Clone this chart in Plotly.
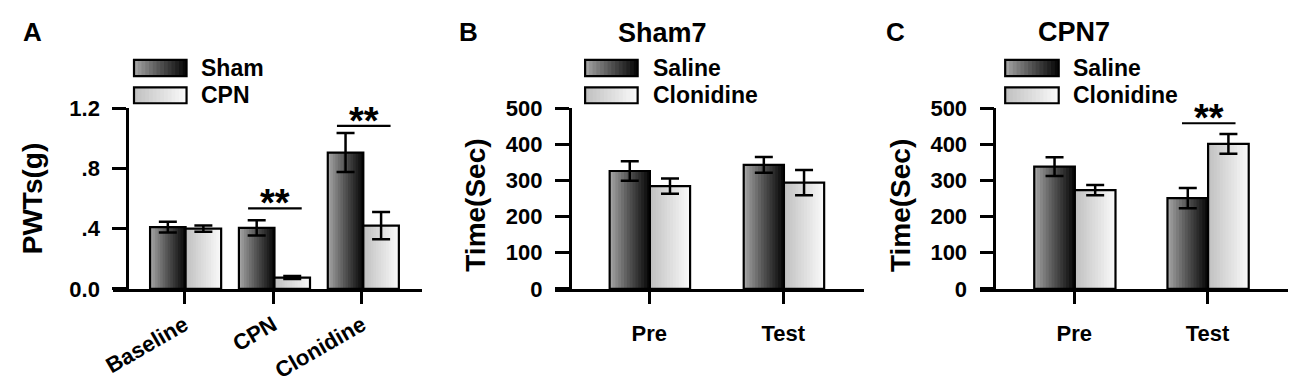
import plotly.graph_objects as go

# page is rendered inside the default 8px body margin, so the figure is
# sized to fill the 1300x391 window exactly
PAGE_W, PAGE_H, BODY = 1300, 391, 8
FW, FH = PAGE_W - 2 * BODY, PAGE_H - 2 * BODY

# ---------------- data ----------------
a_cats = ["Baseline", "CPN", "Clonidine"]
a_sham = [0.41, 0.405, 0.905]
a_sham_err = [0.035, 0.05, 0.13]
a_cpn = [0.40, 0.075, 0.42]
a_cpn_err = [0.02, 0.01, 0.09]
a_ticks = [0.0, 0.4, 0.8, 1.2]
a_ticktext = ["0.0", ".4", ".8", "1.2"]
a_sig = [(1, 0.535), (2, 1.082)]

b_cats = ["Pre", "Test"]
b_saline = [326, 343]
b_saline_err = [27, 22]
b_clon = [284, 294]
b_clon_err = [21, 35]

c_cats = ["Pre", "Test"]
c_saline = [338, 251]
c_saline_err = [26, 28]
c_clon = [273, 401]
c_clon_err = [14, 27]
c_sig = [(1, 458)]

t_ticks = [0, 100, 200, 300, 400, 500]

FONT = "Liberation Sans, Arial, sans-serif"
NS = 14  # gradient slices


def fx(px):
    return (px - BODY) / FW


def fy(py):
    return 1 - (py - BODY) / FH


def dark(t):
    v = int(round(170 - 165 * t ** 0.9))
    return f"rgb({v},{v},{v})"


def light(t):
    v = int(round(192 + 58 * t))
    return f"rgb({v},{v},{v})"


fig = go.Figure()

panels = [
    dict(xa="x", ya="y", cats=a_cats, width=0.40,
         series=[(a_sham, a_sham_err, dark, -0.385), (a_cpn, a_cpn_err, light, 0.015)]),
    dict(xa="x2", ya="y2", cats=b_cats, width=0.30,
         series=[(b_saline, b_saline_err, dark, -0.295), (b_clon, b_clon_err, light, 0.005)]),
    dict(xa="x3", ya="y3", cats=c_cats, width=0.305,
         series=[(c_saline, c_saline_err, dark, -0.300), (c_clon, c_clon_err, light, 0.005)]),
]

for p in panels:
    w = p["width"]
    for vals, errs, cfun, off in p["series"]:
        # gradient: each slice runs from its start to the bar's right edge,
        # later slices painted over earlier ones
        for i in range(NS):
            t = (i + 0.5) / NS
            start = off + i * w / NS
            fig.add_trace(go.Bar(
                x=p["cats"], y=vals, xaxis=p["xa"], yaxis=p["ya"],
                width=w - i * w / NS, offset=start,
                marker=dict(color=cfun(t), line=dict(width=0)),
                showlegend=False, hoverinfo="skip"))
        fig.add_trace(go.Bar(
            x=p["cats"], y=vals, xaxis=p["xa"], yaxis=p["ya"],
            width=w, offset=off,
            marker=dict(color="rgba(0,0,0,0)", line=dict(width=2.2, color="black")),
            error_y=dict(type="data", array=errs, visible=True, color="black",
                         thickness=2.5, width=9),
            showlegend=False))

axis_common = dict(showline=True, linecolor="black", linewidth=2.5, ticks="outside",
                   tickcolor="black", tickwidth=2.5, showgrid=False, zeroline=False,
                   tickfont=dict(family=FONT, size=22, color="black", weight="bold"))

ydom = [fy(302), fy(104.3)]

fig.update_layout(
    width=FW, height=FH, margin=dict(l=0, r=0, t=0, b=0),
    paper_bgcolor="white", plot_bgcolor="white", barmode="overlay",
    xaxis=dict(domain=[fx(103), fx(414)], range=[-0.80, 2.67], type="category",
               anchor="y", ticklen=12, tickangle=-30, ticklabelstandoff=0, **axis_common),
    yaxis=dict(domain=ydom, range=[0, 1.2], anchor="free", position=fx(117),
               tickvals=a_ticks, ticktext=a_ticktext, ticklen=14, ticklabelstandoff=8,
               **axis_common),
    xaxis2=dict(domain=[fx(549), fx(860)], range=[-0.70, 1.60], type="category",
                anchor="y2", ticklen=12, ticklabelstandoff=11, **axis_common),
    yaxis2=dict(domain=ydom, range=[0, 500], anchor="free", position=fx(563.3),
                tickvals=t_ticks, ticklen=14, ticklabelstandoff=8, **axis_common),
    xaxis3=dict(domain=[fx(977.3), fx(1288)], range=[-0.707, 1.605], type="category",
                anchor="y3", ticklen=12, ticklabelstandoff=11, **axis_common),
    yaxis3=dict(domain=ydom, range=[0, 500], anchor="free", position=fx(991.7),
                tickvals=t_ticks, ticklen=14, ticklabelstandoff=8, **axis_common),
)

ann = []
shapes = []


def text(x, y, s, size, xanchor="center", angle=0):
    ann.append(dict(x=fx(x), y=fy(y), xref="paper", yref="paper", text=s, showarrow=False,
                    xanchor=xanchor, yanchor="middle", textangle=angle,
                    font=dict(family=FONT, size=size, color="black", weight="bold")))


text(22, 21, "A", 26)
text(461, 21, "B", 26)
text(892, 21, "C", 26)
text(656.7, 21.7, "Sham7", 27)
text(1071.7, 21.5, "CPN7", 27)
text(21, 203, "PWTs(g)", 28, angle=-90)
text(469, 211, "Time(Sec)", 28, angle=-90)
text(897, 211, "Time(Sec)", 28, angle=-90)


def legend(x0, x1, labels, tx):
    rows = [(51.7, 69.3), (81.7, 99.0)]
    for (y0, y1), (lab, cfun) in zip(rows, labels):
        for i in range(NS):
            t = (i + 0.5) / NS
            sx0 = x0 + (x1 - x0) * i / NS
            shapes.append(dict(type="rect", xref="paper", yref="paper",
                               x0=fx(sx0), x1=fx(x1), y0=fy(y1), y1=fy(y0),
                               fillcolor=cfun(t), line=dict(width=0), layer="above"))
        shapes.append(dict(type="rect", xref="paper", yref="paper",
                           x0=fx(x0), x1=fx(x1), y0=fy(y1), y1=fy(y0),
                           fillcolor="rgba(0,0,0,0)", line=dict(width=2.2, color="black"),
                           layer="above"))
        text(tx, (y0 + y1) / 2, lab, 23, xanchor="left")


legend(124, 177, [("Sham", dark), ("CPN", light)], 190)
legend(579, 632, [("Saline", dark), ("Clonidine", light)], 645)
legend(1002.7, 1056.7, [("Saline", dark), ("Clonidine", light)], 1069)

SIG_HALF_PX = 27


def sig(xa, ya, marks, px_per_unit, shift):
    for cat, yv in marks:
        c = cat + shift
        h = SIG_HALF_PX / px_per_unit
        shapes.append(dict(type="line", xref=xa, yref=ya, x0=c - h, x1=c + h, y0=yv, y1=yv,
                           line=dict(color="black", width=2.2)))
        ann.append(dict(x=c, y=yv, xref=xa, yref=ya, text="**", showarrow=False,
                        xanchor="center", yanchor="bottom", yshift=-18,
                        font=dict(family=FONT, size=38, color="black", weight="bold")))


sig("x", "y", a_sig, 89.5, 0.02)
sig("x3", "y3", c_sig, 134.4, 0.01)

fig.update_layout(annotations=ann, shapes=shapes)

fig.write_html("out.html", config={"displayModeBar": False})
